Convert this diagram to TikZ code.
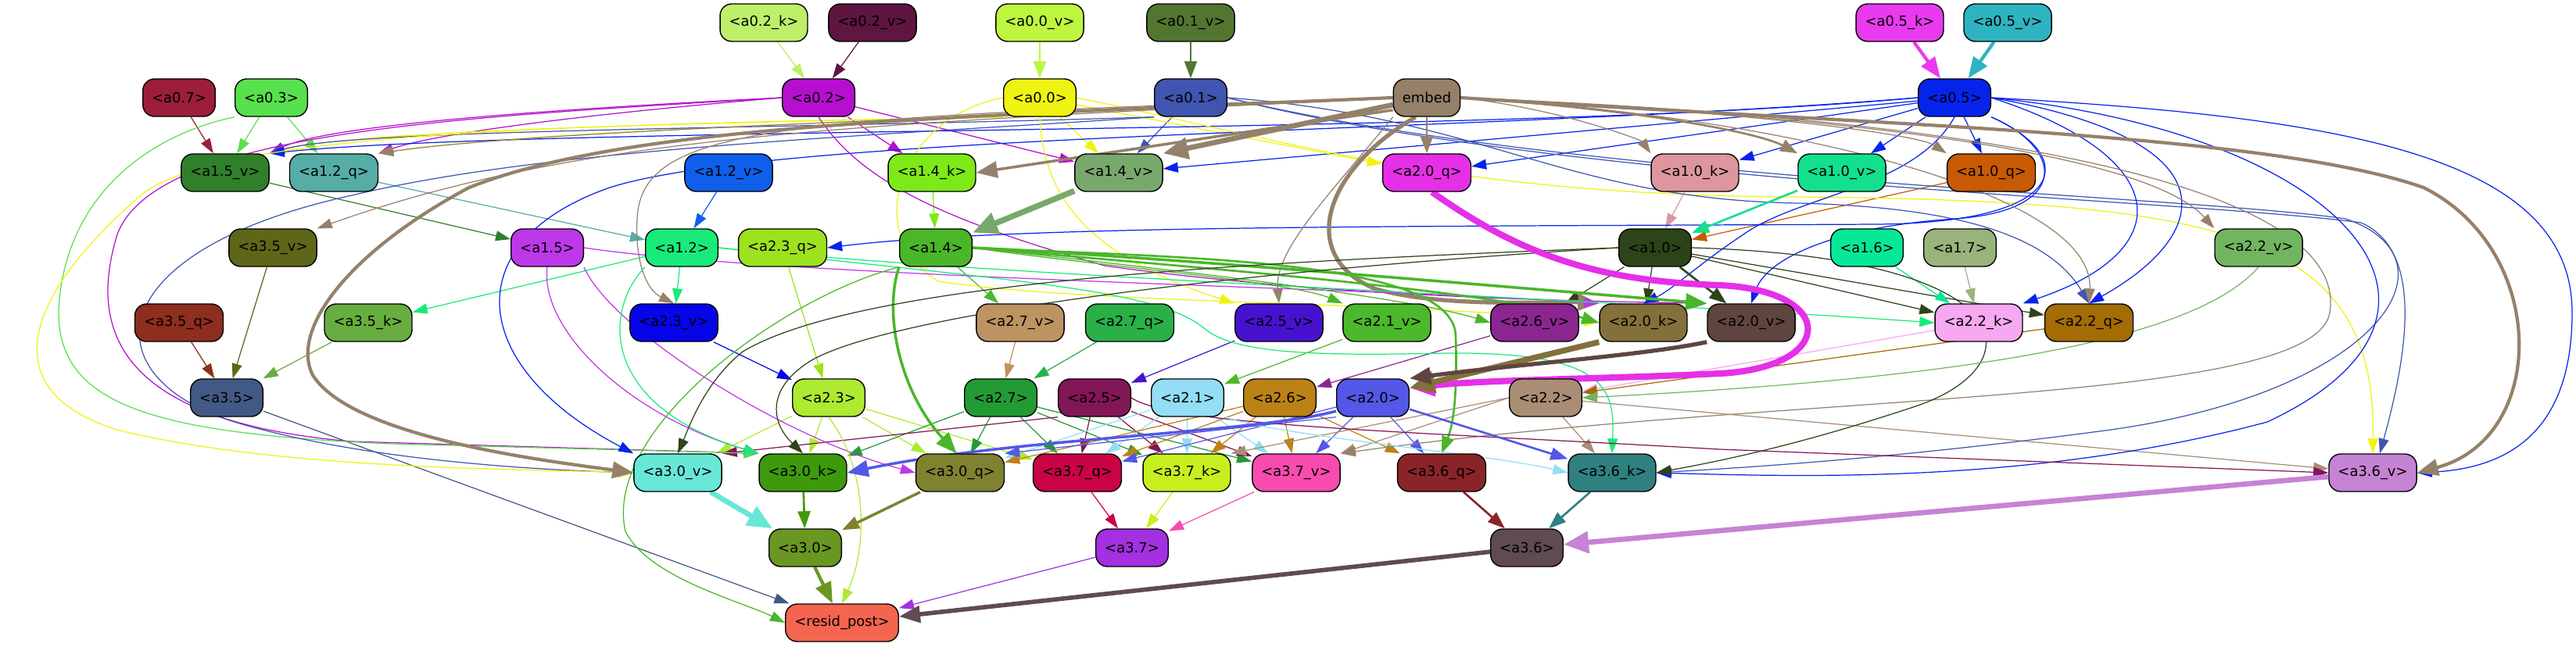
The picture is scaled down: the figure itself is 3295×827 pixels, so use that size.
\documentclass[tikz,border=0pt]{standalone}
\usepackage{fontspec}
\setmainfont{DejaVu Sans}
\usepackage{tikz}
\usetikzlibrary{arrows.meta}
\pgfdeclarelayer{bg}
\pgfsetlayers{bg,main}

% node colours (named like the nodes)
\definecolor{a02k}{HTML}{BDEF6A}
\definecolor{a02v}{HTML}{5E1641}
\definecolor{a00v}{HTML}{BEF53F}
\definecolor{a01v}{HTML}{527530}
\definecolor{a05k}{HTML}{E93AF0}
\definecolor{a05v}{HTML}{2EB4C0}
\definecolor{a07}{HTML}{9C1E3A}
\definecolor{a03}{HTML}{58E04E}
\definecolor{a02}{HTML}{B60FCF}
\definecolor{a00}{HTML}{EFF312}
\definecolor{a01}{HTML}{3F55B0}
\definecolor{embed}{HTML}{95816A}
\definecolor{a05}{HTML}{0623EC}
\definecolor{a15v}{HTML}{30802B}
\definecolor{a12q}{HTML}{55ADA6}
\definecolor{a12v}{HTML}{0F5FEB}
\definecolor{a14k}{HTML}{7EE918}
\definecolor{a14v}{HTML}{79A86C}
\definecolor{a20q}{HTML}{E530E8}
\definecolor{a10k}{HTML}{DE969E}
\definecolor{a10v}{HTML}{12E08D}
\definecolor{a10q}{HTML}{C85A04}
\definecolor{a35v}{HTML}{5E6619}
\definecolor{a15}{HTML}{BD38E8}
\definecolor{a12}{HTML}{18EB7A}
\definecolor{a23q}{HTML}{9DE21E}
\definecolor{a14}{HTML}{4AB62A}
\definecolor{a10}{HTML}{2D4319}
\definecolor{a16}{HTML}{06E898}
\definecolor{a17}{HTML}{98B47C}
\definecolor{a22v}{HTML}{72B561}
\definecolor{a35q}{HTML}{8F2D1E}
\definecolor{a35k}{HTML}{68AD3F}
\definecolor{a23v}{HTML}{0604E8}
\definecolor{a27v}{HTML}{BE9362}
\definecolor{a27q}{HTML}{29B148}
\definecolor{a25v}{HTML}{4712CF}
\definecolor{a21v}{HTML}{4CB82C}
\definecolor{a26v}{HTML}{8B2691}
\definecolor{a20k}{HTML}{84703A}
\definecolor{a20v}{HTML}{5F4540}
\definecolor{a22k}{HTML}{F6A8F0}
\definecolor{a22q}{HTML}{A36C05}
\definecolor{a35}{HTML}{435985}
\definecolor{a23}{HTML}{AEEA32}
\definecolor{a27}{HTML}{229B34}
\definecolor{a25}{HTML}{831656}
\definecolor{a21}{HTML}{93DDF5}
\definecolor{a26}{HTML}{BC8216}
\definecolor{a20}{HTML}{5358E6}
\definecolor{a22}{HTML}{A98D74}
\definecolor{a30v}{HTML}{68E6D6}
\definecolor{a30k}{HTML}{3E9A0C}
\definecolor{a30q}{HTML}{7F8230}
\definecolor{a37q}{HTML}{C90345}
\definecolor{a37k}{HTML}{C7EF1F}
\definecolor{a37v}{HTML}{F84BAF}
\definecolor{a36q}{HTML}{8B2429}
\definecolor{a36k}{HTML}{308080}
\definecolor{a36v}{HTML}{C683D4}
\definecolor{a30}{HTML}{6A9722}
\definecolor{a37}{HTML}{A330E1}
\definecolor{a36}{HTML}{604B52}
\definecolor{resid}{HTML}{F4654F}

\begin{document}
\begin{tikzpicture}[
    x=0.01cm, y=-0.01cm,
    blk/.style={draw=black, line width=0.4pt, rounded corners=0.15cm,
                minimum height=0.48cm, inner xsep=0.115cm, inner ysep=0pt,
                font=\fontsize{5.1}{6}\selectfont},
    edge/.style={-{Triangle[length=0.19cm,width=0.13cm]}, line width=0.35pt},
    edgeb/.style={-{Triangle[length=0.22cm,width=0.16cm]}, line width=0.75pt},
    edgec/.style={-{Triangle[length=0.27cm,width=0.21cm]}, line width=1.2pt},
    edged/.style={-{Triangle[length=0.32cm,width=0.27cm]}, line width=1.9pt}
  ]
  \useasboundingbox (0,0) rectangle (3295,827);

  % Boxes, row by row
  \foreach \n/\px/\py/\lbl in {
    a02k/977/29/{<a0.2\_k>}, a02v/1116/29/{<a0.2\_v>}, a00v/1330/29/{<a0.0\_v>},
    a01v/1523/29/{<a0.1\_v>}, a05k/2430/29/{<a0.5\_k>}, a05v/2568/29/{<a0.5\_v>},
    a07/229/125/{<a0.7>}, a03/347/125/{<a0.3>}, a02/1047/125/{<a0.2>},
    a00/1330/125/{<a0.0>}, a01/1523/125/{<a0.1>}, embed/1825/125/{embed},
    a05/2500/125/{<a0.5>},
    a15v/288/221/{<a1.5\_v>}, a12q/427/221/{<a1.2\_q>}, a12v/932/221/{<a1.2\_v>},
    a14k/1192/221/{<a1.4\_k>}, a14v/1431/221/{<a1.4\_v>}, a20q/1825/221/{<a2.0\_q>},
    a10k/2168/221/{<a1.0\_k>}, a10v/2356/221/{<a1.0\_v>}, a10q/2547/221/{<a1.0\_q>},
    a35v/349/317/{<a3.5\_v>}, a15/700/317/{<a1.5>}, a12/872/317/{<a1.2>},
    a23q/1001/317/{<a2.3\_q>}, a14/1197/317/{<a1.4>}, a10/2117/317/{<a1.0>},
    a16/2388/317/{<a1.6>}, a17/2507/317/{<a1.7>}, a22v/2889/317/{<a2.2\_v>},
    a35q/229/413/{<a3.5\_q>}, a35k/471/413/{<a3.5\_k>}, a23v/862/413/{<a2.3\_v>},
    a27v/1305/413/{<a2.7\_v>}, a27q/1445/413/{<a2.7\_q>}, a25v/1636/413/{<a2.5\_v>},
    a21v/1774/413/{<a2.1\_v>}, a26v/1963/413/{<a2.6\_v>}, a20k/2102/413/{<a2.0\_k>},
    a20v/2240/413/{<a2.0\_v>}, a22k/2531/413/{<a2.2\_k>}, a22q/2672/413/{<a2.2\_q>},
    a35/290/509/{<a3.5>}, a23/1060/509/{<a2.3>}, a27/1280/509/{<a2.7>},
    a25/1400/509/{<a2.5>}, a21/1519/509/{<a2.1>}, a26/1637/509/{<a2.6>},
    a20/1756/509/{<a2.0>}, a22/1977/509/{<a2.2>},
    a30v/867/605/{<a3.0\_v>}, a30k/1027/605/{<a3.0\_k>}, a30q/1228/605/{<a3.0\_q>},
    a37q/1378/605/{<a3.7\_q>}, a37k/1518/605/{<a3.7\_k>}, a37v/1658/605/{<a3.7\_v>},
    a36q/1844/605/{<a3.6\_q>}, a36k/2062/605/{<a3.6\_k>}, a36v/3035/605/{<a3.6\_v>},
    a30/1030/701/{<a3.0>}, a37/1448/701/{<a3.7>}, a36/1953/701/{<a3.6>},
    resid/1077/797/{<resid\_post>}}
    \node[blk, fill=\n] (\n) at (\px,\py) {\lbl};

  \begin{pgfonlayer}{bg}
  % Thin straight links
  \foreach \s/\t in {a02k/a02, a02v/a02, a07/a15v, a03/a15v, a03/a12q, a02/a14k,
      a02/a14v, a00/a14v, a01/a14v, a05/a14v, a05/a20q, a00/a20q, a05/a10k,
      a05/a10v, a05/a10q, a10k/a10, a10q/a10, a12v/a12, a12q/a12, a15v/a15,
      a35v/a35, a35q/a35, a35k/a35, a12/a35k, a12/a23v, a23q/a23, a23v/a23,
      a14k/a14, a14/a27v, a10/a26v, a10/a20k, a10/a22k, a10/a22q, a16/a22k,
      a17/a22k, a22k/a22, a22q/a22, a27v/a27, a27q/a27, a25v/a25, a21v/a21,
      a26v/a26, a23/a30v, a23/a30k, a23/a30q, a23/a37q, a27/a30k, a27/a30q,
      a27/a37q, a27/a37k, a27/a37v, a25/a37q, a25/a37k, a25/a37v, a21/a30q,
      a21/a37q, a21/a37k, a21/a37v, a26/a30q, a26/a37q, a26/a37k, a26/a37v,
      a26/a36q, a20/a37q, a20/a37v, a20/a36q, a22/a36k, a22/a36v, a37q/a37,
      a37k/a37, a37v/a37, a35/resid, a37/resid}
    \draw[edge, draw=\s] (\s) -- (\t);
  \draw[edge, draw=a20] (a20.south west) -- (a30q.north east);
  \draw[edge, draw=a22] (a22.west) -- (a37k.north east);
  \draw[edge, draw=a22] (a22.west) -- (a37v.north east);
  \draw[edge, draw=a25] (a25.south west) -- (a30v.north east);

  % Thin curved links from the top rows
  \draw[edge, draw=a02] (a02.west) .. controls (700,140) and (420,160) .. (a15v.north east);
  \draw[edge, draw=a02] (a02.west) .. controls (760,145) and (560,170) .. (a12q.north east);
  \draw[edge, draw=a00] (a00.south west) .. controls (850,158) and (450,168) .. (a15v.north east);
  \draw[edge, draw=a00] (a00.south west) .. controls (900,160) and (600,178) .. (a12q.north east);
  \draw[edge, draw=a01] (a01.south west) .. controls (1000,165) and (450,165) .. (a15v.north east);
  \draw[edge, draw=a05] (a05.west) .. controls (1900,175) and (700,160) .. (a15v.north east);
  \draw[edge, draw=a02] (a02.west) .. controls (600,150) and (200,165) .. (150,300)
    .. controls (110,430) and (160,540) .. (450,565) -- (a30k.north west);
  \draw[edge, draw=a03] (a03.south west) .. controls (180,175) and (80,260) .. (75,400)
    .. controls (75,520) and (200,555) .. (500,568) -- (a30k.north west);
  \draw[edge, draw=a01] (a01.south west) .. controls (1100,175) and (700,190) .. (450,250)
    .. controls (130,320) and (110,480) .. (300,540)
    .. controls (450,585) and (650,600) .. (a30v.west);
  \draw[edge, draw=a00] (a00.south west) .. controls (700,160) and (280,170) .. (180,250)
    .. controls (30,380) and (-10,500) .. (150,550)
    .. controls (350,600) and (650,600) .. (a30v.west);
  \draw[edge, draw=a05] (a05.west) .. controls (1900,170) and (1000,170) .. (780,240)
    .. controls (580,310) and (600,470) .. (a30v.north west);
  \draw[edge, draw=a00] (a00.south) .. controls (1335,260) and (1400,330) .. (a25v.north west);
  \draw[edge, draw=a00] (a00.west) .. controls (1150,150) and (1100,300) .. (1200,360)
    .. controls (1400,390) and (1800,385) .. (a20k.west);
  \draw[edge, draw=a00] (a00.east) .. controls (1650,180) and (1850,250) .. (2300,252)
    .. controls (2850,257) and (3040,300) .. (a36v.north);
  \draw[edge, draw=a02] (a02.south) .. controls (1100,230) and (1200,280) .. (1413,340)
    .. controls (1700,380) and (2000,385) .. (a20v.north west);
  \draw[edge, draw=a01] (a01.east) .. controls (1900,150) and (2000,255) .. (2300,260)
    .. controls (2500,265) and (2620,300) .. (a22q.north);
  \draw[edge, draw=a01] (a01.east) .. controls (2000,230) and (2800,250) .. (3000,280)
    .. controls (3150,330) and (3050,500) .. (2700,550)
    .. controls (2400,590) and (2200,600) .. (a36k.east);
  \draw[edge, draw=a01] (a01.east) .. controls (2000,235) and (2800,255) .. (3020,285)
    .. controls (3100,320) and (3080,450) .. (a36v.70);

  % a0.5 loops
  \draw[edge, draw=a05] (a05.south east) .. controls (2660,200) and (2650,285) .. (2400,287)
    .. controls (1800,290) and (1300,288) .. (a23q.east);
  \draw[edge, draw=a05] (a05.south) .. controls (2450,240) and (2300,250) .. (2230,300)
    .. controls (2170,340) and (2140,370) .. (a20k.north);
  \draw[edge, draw=a05] (a05.south east) .. controls (2640,190) and (2650,270) .. (2500,280)
    .. controls (2350,290) and (2260,330) .. (a20v.north);
  \draw[edge, draw=a05] (a05.east) .. controls (2780,200) and (2790,320) .. (a22k.north east);
  \draw[edge, draw=a05] (a05.east) .. controls (2860,180) and (2830,300) .. (a22q.north);
  \draw[edge, draw=a05] (a05.east) .. controls (3000,170) and (3200,400) .. (2900,540)
    .. controls (2600,620) and (2300,610) .. (a36k.east);
  \draw[edge, draw=a05] (a05.east) .. controls (3000,150) and (3290,200) .. (3290,400)
    .. controls (3290,560) and (3200,600) .. (a36v.east);

  % embed fan-out
  \draw[edge, draw=embed] (embed.west) .. controls (1300,150) and (700,165) .. (a12q.north east);
  \draw[edge, draw=embed] (embed.west) .. controls (1100,160) and (750,170) .. (a35v.north east);
  \draw[edge, draw=embed] (embed.west) .. controls (1000,150) and (820,160) .. (815,280)
    .. controls (812,330) and (825,370) .. (a23v.north);
  \draw[edge, draw=embed] (embed.south west) .. controls (1700,250) and (1630,320) .. (a25v.north);
  \draw[edge, draw=embed] (embed.east) .. controls (2000,140) and (2100,180) .. (a10k.north west);
  \draw[edgeb, draw=embed] (embed.east) .. controls (2100,140) and (2250,170) .. (a10v.north west);
  \draw[edge, draw=embed] (embed.east) .. controls (2200,140) and (2450,170) .. (a10q.north west);
  \draw[edge, draw=embed] (embed.east) .. controls (2400,150) and (2750,200) .. (a22v.north west);
  \draw[edge, draw=embed] (embed.east) .. controls (2300,150) and (2680,250) .. (a22q.north);
  \draw[edge, draw=embed] (embed.east) .. controls (2750,160) and (3000,280) .. (2980,400)
    .. controls (2960,520) and (2300,500) .. (a37v.north east);
  \draw[edgeb, draw=embed] (embed) -- (a20q);
  \draw[edgec, line width=1pt, draw=embed] (embed.200) -- (a14k.east);
  \draw[edged, draw=embed] (embed) -- (a14v.north east);
  \draw[edgec, draw=embed] (embed.west) .. controls (1200,150) and (800,160) .. (600,240)
    .. controls (450,320) and (370,420) .. (400,480)
    .. controls (450,560) and (700,590) .. (a30v.west);
  \draw[edgec, line width=1.5pt, draw=embed] (embed.240) .. controls (1690,220) and (1660,330) .. (1760,370)
    .. controls (1850,395) and (1990,385) .. (a20k.north west);
  \draw[edgec, draw=embed] (embed.east) .. controls (2400,160) and (2900,170) .. (3100,240)
    .. controls (3260,320) and (3260,560) .. (a36v.east);

  % second row
  \draw[edgeb, draw=a00v] (a00v) -- (a00);
  \draw[edgeb, draw=a01v] (a01v) -- (a01);
  \draw[edgec, draw=a05k] (a05k) -- (a05);
  \draw[edgec, draw=a05v] (a05v) -- (a05);
  \draw[edgeb, draw=a10v] (a10v) -- (a10);
  \draw[edged, line width=2.1pt, draw=a14v] (a14v) -- (a14);

  % layer 1 outputs
  \draw[edge, draw=a15] (a15.east) .. controls (1000,355) and (1800,370) .. (a20k.north west);
  \draw[edge, draw=a15] (a15.south) .. controls (690,420) and (800,530) .. (a30k.north west);
  \draw[edge, draw=a15] (a15.south east) .. controls (780,420) and (1000,560) .. (a30q.west);
  \draw[edge, draw=a12] (a12.east) .. controls (1300,355) and (2000,380) .. (a22k.west);
  \draw[edge, draw=a12] (a12.east) .. controls (1300,360) and (1480,370) .. (1540,420)
    .. controls (1580,455) and (1700,455) .. (1850,452)
    .. controls (2060,450) and (2065,500) .. (a36k.north);
  \draw[edge, draw=a12] (a12.south west) .. controls (770,400) and (770,520) .. (a30k.north west);
  \draw[edgeb, draw=a14] (a14.east) .. controls (1500,340) and (1900,370) .. (a20k.west);
  \draw[edgec, line width=1pt, draw=a14] (a14.east) .. controls (1500,330) and (1900,365) .. (a20v.north west);
  \draw[edge, draw=a14] (a14.east) .. controls (1400,340) and (1650,360) .. (a21v.north west);
  \draw[edge, draw=a14] (a14.east) .. controls (1500,345) and (1800,380) .. (a26v.west);
  \draw[edge, draw=a14] (a14.south west) .. controls (1000,380) and (770,550) .. (800,680)
    .. controls (830,740) and (950,770) .. (resid.west);
  \draw[edgec, line width=1pt, draw=a14] (a14.south west) .. controls (1130,400) and (1150,500) .. (a30q.100);
  \draw[edgeb, draw=a14] (a14.east) .. controls (1500,330) and (1860,330) .. (1862,430)
    .. controls (1864,500) and (1860,540) .. (a36q.north);
  \draw[edge, draw=a10] (a10.west) .. controls (1600,335) and (1100,360) .. (950,450)
    .. controls (900,490) and (880,550) .. (a30v.north);
  \draw[edge, draw=a10] (a10.west) .. controls (1600,345) and (1150,400) .. (1040,460)
    .. controls (980,495) and (985,540) .. (a30k.north);
  \draw[edge, draw=a10] (a10.east) .. controls (2600,330) and (2600,470) .. (2450,520)
    .. controls (2300,570) and (2200,590) .. (a36k.east);
  \draw[edgeb, draw=a10] (a10) -- (a20v);
  \draw[edge, draw=a22v] (a22v.south) .. controls (2820,420) and (2600,480) .. (a22.east);

  % into a2.0
  \draw[edged, line width=2.3pt, draw=a20q] (a20q.285) .. controls (1950,330) and (2050,360) .. (2200,365)
    .. controls (2350,372) and (2350,470) .. (2200,478)
    .. controls (2050,485) and (1900,486) .. (a20.15);
  \draw[edged, line width=2.1pt, draw=a20k] (a20k.south west) -- (a20.15);
  \draw[edgec, line width=1.5pt, draw=a20v] (a20v.south west) .. controls (2100,455) and (1950,465) .. (a20.north east);

  % layer 2 outputs
  \draw[edge, draw=a23] (a23.south) .. controls (1110,600) and (1110,700) .. (resid.north);
  \draw[edge, draw=a25] (a25.east) .. controls (1500,545) and (1800,552) .. (2200,575) -- (a36v.west);
  \draw[edge, draw=a21] (a21.south east) .. controls (1650,560) and (1900,580) .. (a36k.west);
  \draw[edgec, line width=1pt, draw=a20] (a20.200) .. controls (1600,555) and (1300,560) .. (a30k.east);
  \draw[edgeb, draw=a20] (a20) -- (a36k);

  % layer 3 and output
  \draw[edged, draw=a30v] (a30v) -- (a30);
  \draw[edgeb, draw=a30k] (a30k) -- (a30);
  \draw[edgeb, line width=1pt, draw=a30q] (a30q) -- (a30);
  \draw[edgeb, draw=a36q] (a36q) -- (a36);
  \draw[edgeb, draw=a36k] (a36k) -- (a36);
  \draw[edged, draw=a36v] (a36v) -- (a36);
  \draw[edgec, draw=a30] (a30) -- (resid);
  \draw[edgec, line width=1.6pt, draw=a36] (a36) -- (resid);
  \end{pgfonlayer}
\end{tikzpicture}
\end{document}
